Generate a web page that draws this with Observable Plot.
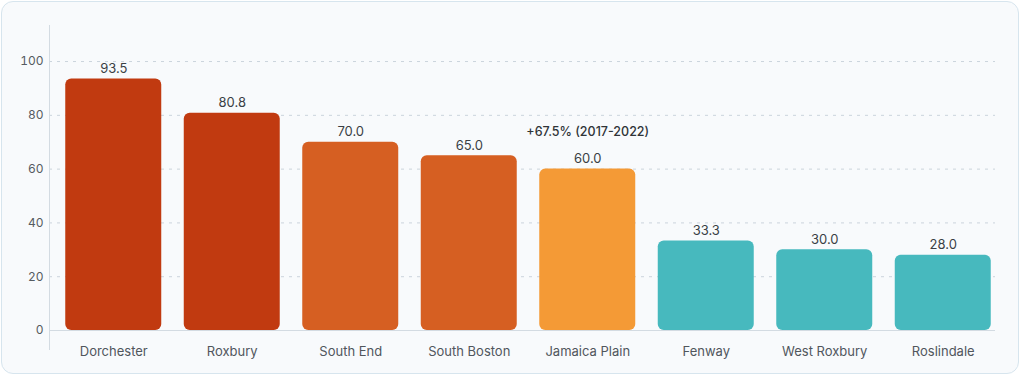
<!DOCTYPE html>
<html>
<head>
<meta charset="utf-8">
<script src="https://cdn.jsdelivr.net/npm/d3@7"></script>
<script src="https://cdn.jsdelivr.net/npm/@observablehq/plot@0.6"></script>
<style>
  html, body { margin: 0; padding: 0; background: #ffffff; }
  #wrap { position: relative; width: 1024px; height: 377px; overflow: hidden; }
  #card { position: absolute; left: 1px; top: 1px; width: 1016px; height: 371px;
          border: 1.5px solid #d7e5ee; border-radius: 12px; background: #f8fafc; }
  #chart { position: absolute; left: 0; top: 0; }
  #chart svg { background: transparent; }
</style>
</head>
<body>
<div id="wrap"><div id="card"></div><div id="chart"></div></div>
<script>
const neighborhoods = ["Dorchester", "Roxbury", "South End", "South Boston", "Jamaica Plain", "Fenway", "West Roxbury", "Roslindale"];
const values = [93.5, 80.8, 70.0, 65.0, 60.0, 33.3, 30.0, 28.0];
const colors = ["#c13a10", "#c13a10", "#d65f22", "#d65f22", "#f49a36", "#47b9be", "#47b9be", "#47b9be"];
const yTicks = [0, 20, 40, 60, 80, 100];
const annotationNeighborhood = "Jamaica Plain";
const annotationText = "+67.5% (2017-2022)";

const data = neighborhoods.map((n, i) => ({name: n, value: values[i], color: colors[i]}));
const annot = data.filter(d => d.name === annotationNeighborhood);

const chart = Plot.plot({
  width: 1024,
  height: 377,
  marginTop: 25,
  marginBottom: 28,
  marginLeft: 49,
  marginRight: 22,
  style: {fontFamily: "Inter, sans-serif", background: "transparent", overflow: "visible"},
  x: {domain: neighborhoods, paddingInner: 0.19, paddingOuter: 0.095, insetLeft: 5, round: false, label: null},
  y: {domain: [0, 113.4], insetBottom: 19, label: null, ticks: yTicks},
  marks: [
    Plot.gridY(yTicks.filter(t => t > 0), {stroke: "#cbd4dc", strokeOpacity: 1, strokeDasharray: "3,5", insetRight: 7}),
    Plot.frame({anchor: "left", stroke: "#d3dbe2", strokeWidth: 1}),
    Plot.barY(data, {x: "name", y: "value", fill: d => d.color, rx: 6}),
    Plot.ruleY([0], {stroke: "#d3dbe2", strokeWidth: 1.2, insetRight: 7}),
    Plot.text(data, {x: "name", y: "value", text: d => d.value.toFixed(1), dy: -10, fontSize: 13, fill: "#3a3f45"}),
    Plot.text(annot, {x: "name", y: "value", text: () => annotationText, dy: -37, fontSize: 12.5, fontWeight: 500, fill: "#2f3438"}),
    Plot.axisY({ticks: yTicks, tickSize: 0, tickPadding: 6, fontSize: 12, color: "#555b61"}),
    Plot.axisX({tickSize: 0, tickPadding: -3, fontSize: 13, color: "#50565c"})
  ]
});
document.getElementById("chart").appendChild(chart);
</script>
</body>
</html>
